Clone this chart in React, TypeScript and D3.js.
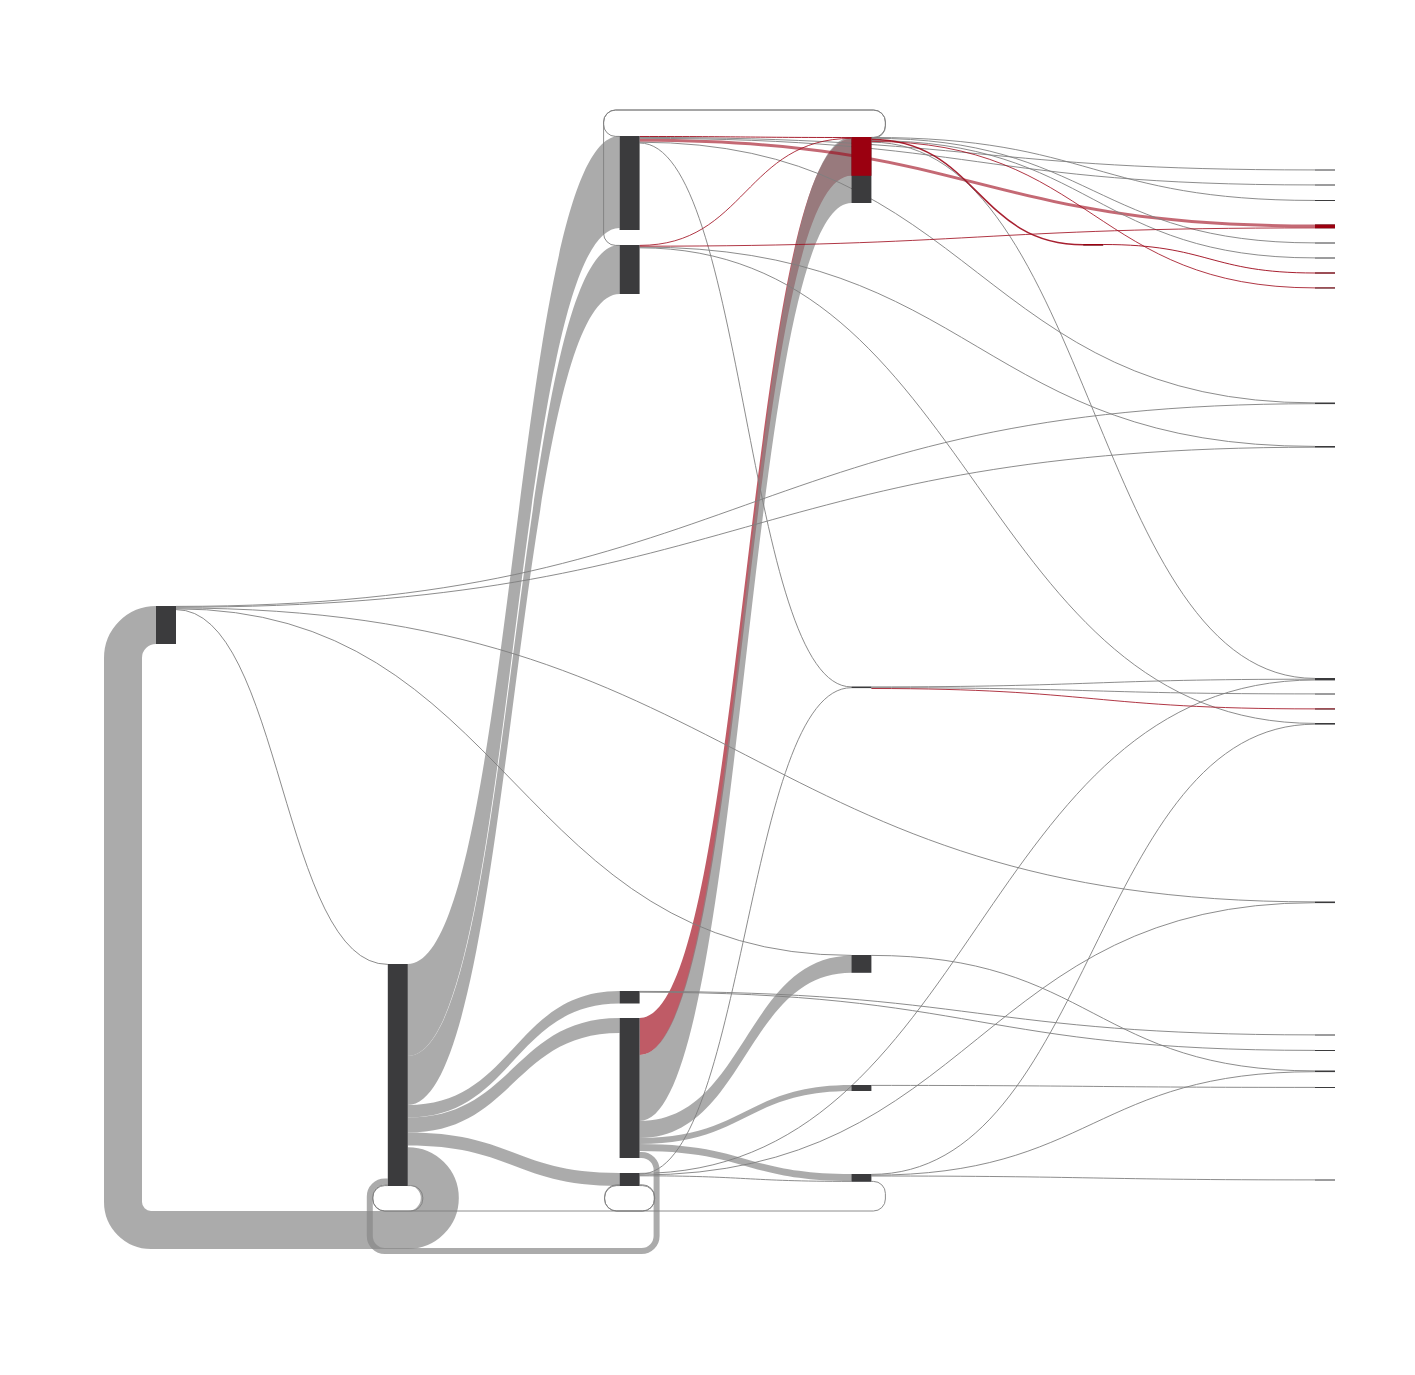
import React, { useMemo } from 'react';
import * as d3 from 'd3';

// ---------------- data ----------------
// nodes: id, column, value
const nodeList: [string, number, number][] = [
  ['A', 0, 38],
  ['B', 1, 222],
  ['C1', 2, 94], ['C2', 2, 49], ['C3', 2, 12.5], ['C4', 2, 140], ['C5', 2, 13],
  ['D1', 3, 66], ['D2', 3, 1.6], ['D3', 3, 17.8], ['D4', 3, 6], ['D5', 3, 7.8],
  ['E', 4, 1.5],
  ['F01', 5, 1], ['F02', 5, 1], ['F03', 5, 1], ['F04', 5, 3.8], ['F05', 5, 1], ['F06', 5, 1],
  ['F07', 5, 1], ['F08', 5, 1], ['F09', 5, 1.6], ['F10', 5, 1.6], ['F11', 5, 2.4], ['F12', 5, 1],
  ['F13', 5, 1], ['F14', 5, 1.6], ['F15', 5, 1.6], ['F16', 5, 1], ['F17', 5, 1], ['F18', 5, 1.6],
  ['F19', 5, 1], ['F20', 5, 1],
];

// links: source, target, value, kind
const linkList: [string, string, number, 'grey' | 'red'][] = [
  ['A', 'B', 0.8, 'grey'], ['A', 'D3', 0.8, 'grey'], ['A', 'F09', 0.8, 'grey'], ['A', 'F10', 0.8, 'grey'], ['A', 'F15', 0.8, 'grey'],
  ['B', 'C1', 92, 'grey'], ['B', 'C2', 49, 'grey'], ['B', 'C3', 12.5, 'grey'], ['B', 'C4', 15, 'grey'], ['B', 'C5', 13, 'grey'],
  ['B', 'A', 38, 'grey'], ['B', 'B', 0.8, 'grey'],
  ['C1', 'D1', 1, 'red'], ['C1', 'F01', 0.9, 'grey'], ['C1', 'F02', 0.9, 'grey'], ['C1', 'F04', 3, 'red'], ['C1', 'F09', 0.8, 'grey'], ['C1', 'D2', 0.8, 'grey'],
  ['C2', 'D1', 0.8, 'red'], ['C2', 'F04', 0.8, 'red'], ['C2', 'F10', 0.8, 'grey'], ['C2', 'F14', 0.8, 'grey'],
  ['C3', 'F16', 0.8, 'grey'], ['C3', 'F17', 0.8, 'grey'],
  ['C4', 'D1', 37, 'red'], ['C4', 'D1', 66, 'grey'], ['C4', 'D3', 17, 'grey'], ['C4', 'D4', 6, 'grey'], ['C4', 'D5', 7, 'grey'], ['C4', 'B', 6, 'grey'],
  ['C5', 'D2', 0.8, 'grey'], ['C5', 'F11', 0.8, 'grey'], ['C5', 'F15', 0.8, 'grey'], ['C5', 'D5', 0.8, 'grey'], ['C5', 'C5', 0.8, 'grey'], ['C5', 'B', 0.8, 'grey'],
  ['D1', 'C1', 0.8, 'grey'], ['D1', 'C2', 0.8, 'grey'], ['D1', 'F03', 0.9, 'grey'], ['D1', 'E', 1.5, 'red'], ['D1', 'F05', 0.8, 'grey'],
  ['D1', 'F06', 0.8, 'grey'], ['D1', 'F08', 0.8, 'red'], ['D1', 'F11', 0.8, 'grey'],
  ['D2', 'F11', 0.8, 'grey'], ['D2', 'F12', 0.8, 'grey'], ['D2', 'F13', 0.8, 'red'],
  ['D3', 'F18', 0.8, 'grey'], ['D4', 'F19', 0.8, 'grey'],
  ['D5', 'F14', 0.8, 'grey'], ['D5', 'F18', 0.8, 'grey'], ['D5', 'F20', 0.8, 'grey'], ['D5', 'C5', 0.8, 'grey'],
  ['E', 'F07', 1, 'red'],
];

// ---------------- layout (positions, as a sankey layout would compute) ----------------
const nodeTops: Record<string, number> = {
  A: 606, B: 964, C1: 136, C2: 245, C3: 991, C4: 1018, C5: 1173,
  D1: 137, D2: 686.5, D3: 955, D4: 1085, D5: 1174, E: 244,
  F01: 169.5, F02: 184.5, F03: 200, F04: 224.5, F05: 242.5, F06: 257.5, F07: 272.5, F08: 287.5,
  F09: 402.5, F10: 446, F11: 678, F12: 693.5, F13: 708.5, F14: 723, F15: 901.5,
  F16: 1034.5, F17: 1050, F18: 1070.5, F19: 1087, F20: 1179.5,
};

type Lane = { dir: 'down' | 'up'; padR: number; y: number; padL: number; r: [number, number, number, number] };
const loopLanes: Record<string, Lane> = {
  'B>A': { dir: 'down', padR: 32, y: 1230, padL: 33, r: [32, 32, 28, 33] },
  'B>B': { dir: 'down', padR: 15, y: 1211, padL: 15, r: [12, 12, 12, 12] },
  'C5>B': { dir: 'down', padR: 15, y: 1211, padL: 15, r: [12, 12, 12, 12] },
  'C5>C5': { dir: 'down', padR: 15, y: 1211, padL: 15, r: [12, 12, 12, 12] },
  'D5>C5': { dir: 'down', padR: 14, y: 1211, padL: 15, r: [12, 12, 12, 12] },
  'C4>B': { dir: 'down', padR: 17, y: 1251, padL: 18, r: [15, 15, 15, 15] },
  'D1>C1': { dir: 'up', padR: 14, y: 110, padL: 16, r: [12, 12, 12, 12] },
  'D1>C2': { dir: 'up', padR: 14, y: 110, padL: 16, r: [12, 12, 12, 12] },
};

const W = 1415;
const H = 1375;
const NODE_W = 20;
const GREY = '#888888';
const RED = '#a00d1e';
const NODE_DARK = '#3b3b3d';
const NODE_RED = '#9b0010';

const xCol = d3.scaleLinear().domain([0, 5]).range([156, 1315]);
const ky = d3.scaleLinear().domain([0, 1]).range([0, 1]);

type N = { id: string; col: number; value: number; x0: number; x1: number; y0: number; y1: number; redIn: number };
type L = { i: number; source: N; target: N; value: number; kind: 'grey' | 'red'; w: number; lane?: Lane; sy: number; ty: number };

function buildLayout() {
  const nodes: N[] = nodeList.map(([id, col, value]) => {
    const x0 = xCol(col);
    const y0 = nodeTops[id];
    return { id, col, value, x0, x1: x0 + NODE_W, y0, y1: y0 + ky(value), redIn: 0 };
  });
  const byId = new Map(nodes.map((n) => [n.id, n]));
  const links: L[] = linkList.map(([s, t, value, kind], i) => ({
    i, source: byId.get(s)!, target: byId.get(t)!, value, kind, w: ky(value),
    lane: loopLanes[`${s}>${t}`], sy: 0, ty: 0,
  }));
  const cy = (n: N) => (n.y0 + n.y1) / 2;
  const span = (l: L) => l.source.x1 - l.target.x0;
  const downOrder = (a: L, b: L) => a.lane!.y - b.lane!.y || span(a) - span(b) || a.i - b.i;
  const upOrder = (a: L, b: L) => b.lane!.y - a.lane!.y || span(a) - span(b) || a.i - b.i;

  for (const n of nodes) {
    // forward outgoing, stacked from the top
    let y = n.y0;
    links.filter((l) => l.source === n && !l.lane)
      .sort((a, b) => cy(a.target) - cy(b.target) || a.i - b.i)
      .forEach((l) => { l.sy = y + l.w / 2; y += l.w; });
    // forward incoming: grey stacked, red highlight stacked as overlay
    for (const kind of ['grey', 'red']) {
      let yy = n.y0;
      links.filter((l) => l.target === n && !l.lane && l.kind === kind)
        .sort((a, b) => cy(a.source) - cy(b.source) || a.i - b.i)
        .forEach((l) => { l.ty = yy + l.w / 2; yy += l.w; if (kind === 'red') n.redIn += l.w; });
    }
    // loops
    let yb = n.y1, yt = n.y0;
    const lo = links.filter((l) => l.source === n && l.lane);
    lo.filter((l) => l.lane!.dir === 'down').sort(downOrder).forEach((l) => { l.sy = yb - l.w / 2; yb -= l.w; });
    lo.filter((l) => l.lane!.dir === 'up').sort(upOrder).forEach((l) => { l.sy = yt + l.w / 2; yt += l.w; });
    yb = n.y1; yt = n.y0;
    const li = links.filter((l) => l.target === n && l.lane);
    li.filter((l) => l.lane!.dir === 'down').sort(downOrder).forEach((l) => { l.ty = yb - l.w / 2; yb -= l.w; });
    li.filter((l) => l.lane!.dir === 'up').sort(upOrder).forEach((l) => { l.ty = yt + l.w / 2; yt += l.w; });
  }
  return { nodes, links };
}

function ribbon(l: L) {
  const x0 = l.source.x1, x1 = l.target.x0, xm = (x0 + x1) / 2;
  const h = l.w / 2;
  const p = d3.path();
  p.moveTo(x0, l.sy - h);
  p.bezierCurveTo(xm, l.sy - h, xm, l.ty - h, x1, l.ty - h);
  p.lineTo(x1, l.ty + h);
  p.bezierCurveTo(xm, l.ty + h, xm, l.sy + h, x0, l.sy + h);
  p.closePath();
  return p.toString();
}

const thinGen = d3.linkHorizontal<any, [number, number]>().source((d: any) => d.s).target((d: any) => d.t);
function thin(l: L) {
  return thinGen({ s: [l.source.x1, l.sy], t: [l.target.x0, l.ty] }) as string;
}

function loopPath(l: L) {
  const ln = l.lane!;
  const sx = l.source.x1, tx = l.target.x0;
  const xR = sx + ln.padR, xL = tx - ln.padL, yL = ln.y;
  const sgn = ln.dir === 'down' ? 1 : -1;
  const r1 = Math.min(ln.r[0], Math.abs(yL - l.sy) / 2);
  const r4 = Math.min(ln.r[3], Math.abs(yL - l.ty) / 2, tx - xL);
  const p = d3.path();
  p.moveTo(sx, l.sy);
  p.arcTo(xR, l.sy, xR, yL, r1);
  p.arcTo(xR, yL, xL, yL, Math.min(ln.r[1], Math.abs(yL - l.sy) - r1 + 0.001 > 0 ? ln.r[1] : r1));
  p.arcTo(xL, yL, xL, l.ty, ln.r[2]);
  p.arcTo(xL, l.ty, tx, l.ty, r4);
  p.lineTo(tx, l.ty);
  void sgn;
  return p.toString();
}

export default function App() {
  const { nodes, links } = useMemo(buildLayout, []);
  const isThin = (l: L) => l.w < 2;
  const redUnder = links.filter((l) => l.kind === 'red' && !l.lane && !isThin(l) && l.value >= 10);
  const greyWide = links.filter((l) => l.kind === 'grey' && !isThin(l));
  const redWideTop = links.filter((l) => l.kind === 'red' && !l.lane && !isThin(l) && l.value < 10);
  const greyThin = links.filter((l) => l.kind === 'grey' && isThin(l));
  const redThin = links.filter((l) => l.kind === 'red' && isThin(l));

  return (
    <svg width={W} height={H} style={{ position: 'absolute', left: 0, top: 0, background: '#fff', display: 'block' }}>
      <rect x={0} y={0} width={W} height={H} fill="#fff" />
      <g>
        {redUnder.map((l) => (
          <path key={l.i} d={ribbon(l)} fill={RED} fillOpacity={0.68} />
        ))}
      </g>
      <g>
        {greyWide.map((l) =>
          l.lane ? (
            <path key={l.i} d={loopPath(l)} fill="none" stroke={GREY} strokeOpacity={0.7} strokeWidth={l.w} />
          ) : (
            <path key={l.i} d={ribbon(l)} fill={GREY} fillOpacity={0.7} />
          )
        )}
      </g>
      <g>
        {redWideTop.map((l) => (
          <path key={l.i} d={ribbon(l)} fill={RED} fillOpacity={0.62} />
        ))}
      </g>
      <g fill="none">
        {greyThin.map((l) => (
          <path key={l.i} d={l.lane ? loopPath(l) : thin(l)} stroke="#7f7f7f" strokeWidth={Math.max(l.w, 0.9)} />
        ))}
      </g>
      <g fill="none">
        {redThin.map((l) => (
          <path key={l.i} d={l.lane ? loopPath(l) : thin(l)} stroke={RED} strokeWidth={Math.max(l.w, 0.9)} strokeOpacity={0.92} />
        ))}
      </g>
      <g>
        {nodes.map((n) => (
          <g key={n.id}>
            <rect x={n.x0} y={n.y0} width={n.x1 - n.x0} height={n.y1 - n.y0} fill={NODE_DARK} />
            {n.redIn > 0 && (
              <rect x={n.x0} y={n.y0} width={n.x1 - n.x0} height={Math.min(n.redIn, n.y1 - n.y0)} fill={NODE_RED} />
            )}
          </g>
        ))}
      </g>
    </svg>
  );
}
